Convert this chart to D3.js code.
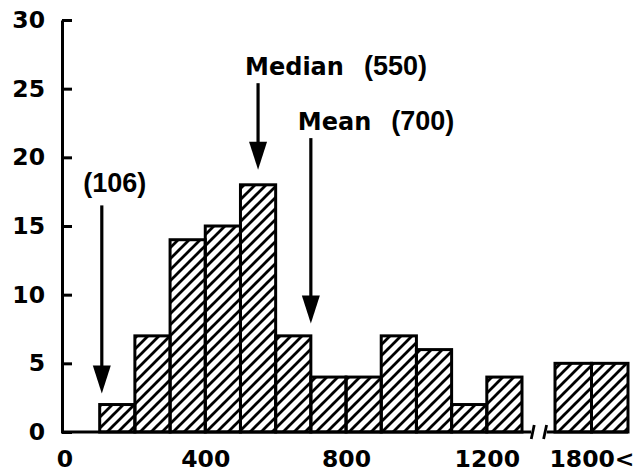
<!DOCTYPE html>
<html>
<head>
<meta charset="utf-8">
<script src="https://cdn.jsdelivr.net/npm/d3@7"></script>
<style>
  body { margin: 0; background: #fff; }
  svg { display: block; }
  .tick text { font-family: "DejaVu Sans", sans-serif; font-weight: bold; fill: #000; }
  .name { font-family: "DejaVu Sans", sans-serif; font-weight: bold; font-size: 24px; }
  .num { font-family: "Liberation Sans", Arial, sans-serif; font-weight: bold; font-size: 27px; }
</style>
</head>
<body>
<div id="chart"></div>
<script>
// histogram bins (lower edge of each 100-wide bin) and counts
var binStarts = [100, 200, 300, 400, 500, 600, 700, 800, 900, 1000, 1100, 1200, 1700, 1800];
var counts    = [2,   7,   14,  15,  18,  7,   4,   4,   7,   6,    2,    4,    5,    5];
var binWidth = 100;

var yTicks = [0, 5, 10, 15, 20, 25, 30];
var xTicks = [0, 400, 800, 1200, 1800];
var xTickLabels = ["0", "400", "800", "1200", "1800<"];

// marked values
var markNames  = ["", "Median", "Mean"];
var markLabels = ["(106)", "(550)", "(700)"];
var markValues = [106, 550, 700];
var markTop    = [16.5, 25.4, 21.4];   // count where arrow starts
var markTip    = [2.8, 19.1, 7.9];     // count where arrow ends

var W = 638, H = 472;

var svg = d3.select("#chart").append("svg")
  .attr("width", W)
  .attr("height", H);

// broken x axis: 1300..1700 squeezed into the gap
var x = d3.scaleLinear()
  .domain([0, 1300, 1700, 1900])
  .range([64.5, 522, 555, 628]);
var y = d3.scaleLinear()
  .domain([0, 30])
  .range([432, 20]);

var defs = svg.append("defs");
defs.append("pattern")
  .attr("id", "hatch")
  .attr("patternUnits", "userSpaceOnUse")
  .attr("width", 11)
  .attr("height", 11)
  .append("path")
  .attr("d", "M0,11 L11,0 M-3,3 L3,-3 M8,14 L14,8")
  .attr("stroke", "#000")
  .attr("stroke-width", 2.8);

// bars
svg.append("g")
  .selectAll("rect")
  .data(binStarts)
  .enter()
  .append("rect")
  .attr("x", function(d) { return x(d); })
  .attr("y", function(d, i) { return y(counts[i]); })
  .attr("width", function(d) { return x(d + binWidth) - x(d); })
  .attr("height", function(d, i) { return y(0) - y(counts[i]); })
  .attr("fill", "url(#hatch)")
  .attr("stroke", "#000")
  .attr("stroke-width", 3);

// y axis
var yAxis = d3.axisLeft(y)
  .tickValues(yTicks)
  .tickSizeInner(-10)
  .tickSizeOuter(0)
  .tickPadding(17);
var gy = svg.append("g")
  .attr("transform", "translate(62,0)")
  .call(yAxis);
gy.select(".domain").attr("stroke-width", 3).attr("stroke", "#000");
gy.selectAll(".tick line").attr("stroke-width", 3).attr("stroke", "#000");
gy.selectAll(".tick text").style("font-size", "23.5px");

// x axis, labels only
var xAxis = d3.axisBottom(x)
  .tickValues(xTicks)
  .tickSize(0)
  .tickPadding(18)
  .tickFormat(function(d, i) { return xTickLabels[i]; });
var gx = svg.append("g")
  .attr("transform", "translate(0," + y(0) + ")")
  .call(xAxis);
gx.select(".domain").remove();
gx.selectAll(".tick text").style("font-size", "23.5px");

// baseline with break
var base = svg.append("g")
  .attr("stroke", "#000")
  .attr("stroke-width", 3)
  .attr("fill", "none");
base.append("path")
  .attr("d", "M61," + y(0) + "H" + x(1410));
base.append("path")
  .attr("d", "M" + x(1600) + "," + y(0) + "H" + x(1900));
[1430, 1580].forEach(function(v) {
  base.append("path")
    .attr("stroke-width", 2.8)
    .attr("d", "M" + (x(v) - 1.5) + "," + (y(0) + 7) + "L" + (x(v) + 1.5) + "," + (y(0) - 7));
});

// arrows and labels
var marks = svg.append("g");
markValues.forEach(function(v, i) {
  var ax = x(v), top = y(markTop[i]), tip = y(markTip[i]);
  marks.append("line")
    .attr("x1", ax).attr("x2", ax)
    .attr("y1", top).attr("y2", tip - 20)
    .attr("stroke", "#000")
    .attr("stroke-width", 3.2);
  marks.append("path")
    .attr("d", "M" + ax + "," + tip + "L" + (ax - 9) + "," + (tip - 28) + "L" + (ax + 9) + "," + (tip - 28) + "Z")
    .attr("fill", "#000");

  if (markNames[i]) {
    var tx = ax - 13, ty = top - 8;
    var nm = marks.append("text")
      .attr("class", "name")
      .attr("x", tx)
      .attr("y", ty)
      .text(markNames[i]);
    var len = nm.node().getComputedTextLength();
    marks.append("text")
      .attr("class", "num")
      .attr("x", tx + len + 20)
      .attr("y", ty)
      .text(markLabels[i]);
  } else {
    marks.append("text")
      .attr("class", "num")
      .attr("text-anchor", "middle")
      .attr("x", ax + 13)
      .attr("y", top - 13)
      .text(markLabels[i]);
  }
});
</script>
</body>
</html>
